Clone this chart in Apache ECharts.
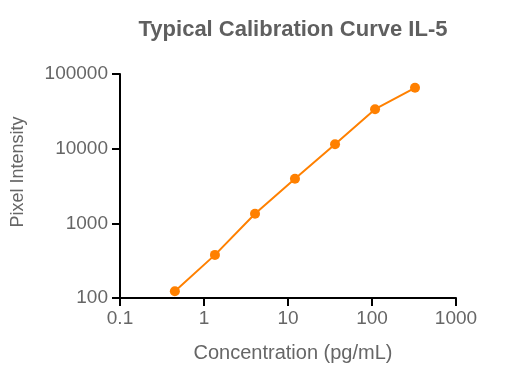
<!DOCTYPE html>
<html><head><meta charset="utf-8">
<script src="https://cdn.jsdelivr.net/npm/echarts@6/dist/echarts.min.js"></script>
<style>html,body{margin:0;padding:0;background:#fff}#c{width:510px;height:382px}</style>
</head><body><div id="c"></div>
<script>
const concentrations = [0.45, 1.35, 4.05, 12.1, 36.3, 108.7, 325];
const intensities = [123, 378, 1343, 3955, 11450, 33800, 65300];
const xTicks = [0.1, 1, 10, 100, 1000];
const yTicks = [100, 1000, 10000, 100000];

const chart = echarts.init(document.getElementById('c'));
const font = 'Liberation Sans, Arial, sans-serif';
const fmt = v => {
  const r = xTicks.concat(yTicks).find(t => Math.abs(t - v) / t < 1e-6);
  return r !== undefined ? String(r) : '';
};
chart.setOption({
  animation: false,
  title: {
    text: 'Typical Calibration Curve IL-5',
    left: 288, top: 14, textAlign: 'center',
    textStyle: {fontFamily: font, fontSize: 22, fontWeight: 'bold', color: '#5f5f5f'}
  },
  grid: {left: 120, right: 54, top: 74, bottom: 84},
  xAxis: {
    type: 'log', logBase: 10, min: 0.1, max: 1000,
    name: 'Concentration (pg/mL)', nameLocation: 'middle', nameGap: 45,
    nameTextStyle: {fontFamily: font, fontSize: 20, color: '#666', padding: [0, 0, 0, 10]},
    axisLine: {lineStyle: {color: '#000', width: 2}},
    axisTick: {length: 8, lineStyle: {color: '#000', width: 2}},
    axisLabel: {fontFamily: font, fontSize: 19, color: '#666', margin: 11, formatter: fmt},
    splitLine: {show: false}, minorTick: {show: false}
  },
  yAxis: {
    type: 'log', logBase: 10, min: 100, max: 100000,
    name: 'Pixel Intensity', nameLocation: 'middle', nameGap: 93,
    nameTextStyle: {fontFamily: font, fontSize: 18, color: '#666', padding: [0, 0, 0, 28]},
    axisLine: {lineStyle: {color: '#000', width: 2}},
    axisTick: {length: 8, lineStyle: {color: '#000', width: 2}},
    axisLabel: {fontFamily: font, fontSize: 19, color: '#666', margin: 12, formatter: fmt},
    splitLine: {show: false}, minorTick: {show: false}
  },
  series: [{
    type: 'line',
    data: concentrations.map((c, i) => [c, intensities[i]]),
    symbol: 'circle', symbolSize: 10,
    itemStyle: {color: '#ff8000'},
    lineStyle: {color: '#ff8000', width: 2}
  }]
});
</script></body></html>
